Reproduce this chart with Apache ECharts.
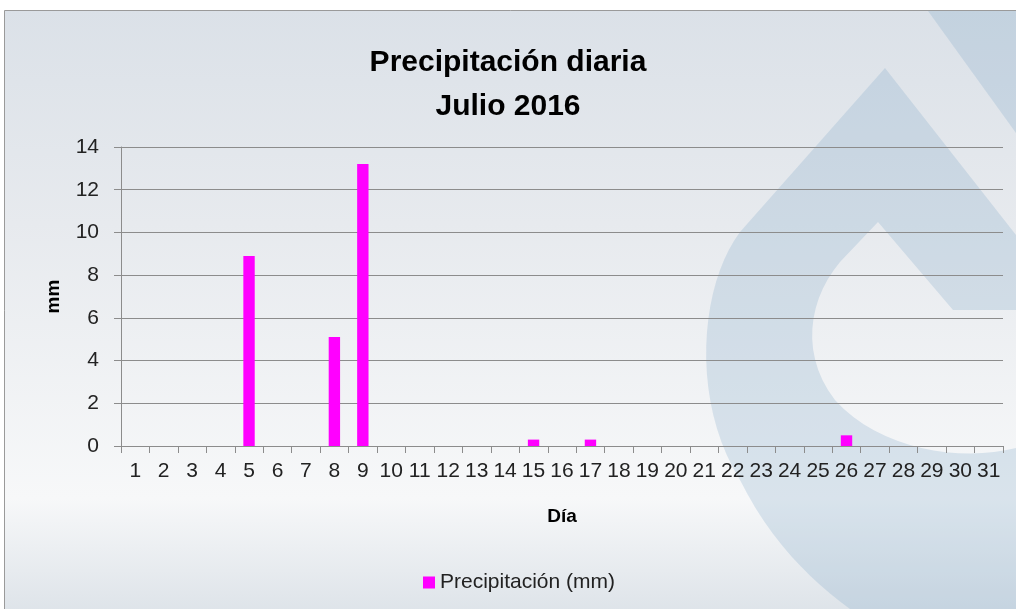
<!DOCTYPE html>
<html>
<head>
<meta charset="utf-8">
<script src="https://cdn.jsdelivr.net/npm/echarts@6/dist/echarts.min.js"></script>
<style>html,body{margin:0;padding:0;background:#fff}#c{width:1016px;height:609px}</style>
</head>
<body>
<div id="c"></div>
<script>
const days = ['1','2','3','4','5','6','7','8','9','10','11','12','13','14','15','16','17','18','19','20','21','22','23','24','25','26','27','28','29','30','31'];
const precip = [0,0,0,0,8.9,0,0,5.1,13.2,0,0,0,0,0,0.3,0,0.3,0,0,0,0,0,0,0,0,0.5,0,0,0,0,0];
const yTicks = {min:0, max:14, interval:2};
const seriesName = 'Precipitación (mm)';
const titleText = 'Precipitación diaria\nJulio 2016';

const FONT = 'Liberation Sans, Arial, sans-serif';

// decorative background drop: sample cubic beziers into polygon points
function cubic(p0,p1,p2,p3,n){const o=[];for(let i=1;i<=n;i++){const t=i/n,u=1-t;
  o.push([u*u*u*p0[0]+3*u*u*t*p1[0]+3*u*t*t*p2[0]+t*t*t*p3[0], u*u*u*p0[1]+3*u*u*t*p1[1]+3*u*t*t*p2[1]+t*t*t*p3[1]]);}return o;}
const outerPts = [[885,68],[740,232]]
  .concat(cubic([740,232],[700,285],[690,400],[740,480],20))
  .concat(cubic([740,480],[770,540],[810,580],[850,609],12))
  .concat([[1016,609],[1016,235]]);
const innerPts = [[878,222],[953,310],[1016,310],[1016,448]]
  .concat(cubic([1016,448],[960,462],[880,450],[835,400],16))
  .concat(cubic([835,400],[800,355],[808,300],[840,262],14));
const bgStops = [{offset:0,color:'#dbe1e8'},{offset:0.35,color:'#e7eaee'},{offset:0.8,color:'#f7f8f9'},{offset:1,color:'#dce2e8'}];
const bgGrad = () => new echarts.graphic.LinearGradient(0,10,0,620,bgStops.map(s=>({offset:s.offset,color:s.color})),true);
const dropFill = 'rgba(120,165,195,0.24)';

const chart = echarts.init(document.getElementById('c'), null, {renderer:'canvas'});
chart.setOption({
  animation:false,
  backgroundColor:'#ffffff',
  graphic:[
    {type:'rect', z:-20, silent:true, shape:{x:4.5,y:10.5,width:1020,height:610},
     style:{fill:bgGrad(), stroke:'#9a9a9a', lineWidth:1}},
    {type:'polygon', z:-19, silent:true, shape:{points:[[928,11],[1016,11],[1016,133]]},
     style:{fill:dropFill}},
    {type:'polygon', z:-19, silent:true, shape:{points:outerPts},
     style:{fill:dropFill}},
    {type:'polygon', z:-18, silent:true, shape:{points:innerPts},
     style:{fill:bgGrad()}}
  ],
  title:{text:titleText, left:'center', top:36,
    textStyle:{fontFamily:FONT, fontWeight:'bold', fontSize:30, color:'#000', lineHeight:44}},
  legend:{data:[seriesName], left:418, top:567, itemWidth:12, itemHeight:12, itemGap:6,
    icon:'rect', textStyle:{fontFamily:FONT, fontSize:21, color:'#222'}},
  grid:{left:121, right:13, top:147, bottom:163, containLabel:false},
  xAxis:{type:'category', data:days, name:'Día', nameLocation:'middle', nameGap:61,
    nameTextStyle:{fontFamily:FONT, fontWeight:'bold', fontSize:19, color:'#000'},
    axisLine:{lineStyle:{color:'#8c8c8c'}},
    axisTick:{show:true, alignWithLabel:false, length:7, lineStyle:{color:'#8c8c8c'}},
    axisLabel:{interval:0, margin:15, fontFamily:FONT, fontSize:21, color:'#222'}},
  yAxis:{type:'value', min:yTicks.min, max:yTicks.max, interval:yTicks.interval,
    name:'mm', nameLocation:'middle', nameGap:58, nameRotate:90,
    nameTextStyle:{fontFamily:FONT, fontWeight:'bold', fontSize:19, color:'#000'},
    axisLine:{show:true, lineStyle:{color:'#8c8c8c'}},
    axisTick:{show:true, length:7, lineStyle:{color:'#8c8c8c'}},
    splitLine:{lineStyle:{color:'#8c8c8c', width:1}},
    axisLabel:{margin:22, fontFamily:FONT, fontSize:21, color:'#222'}},
  series:[{name:seriesName, type:'bar', data:precip, barWidth:'40%',
    itemStyle:{color:'#ff00ff'}}]
});
</script>
</body>
</html>
